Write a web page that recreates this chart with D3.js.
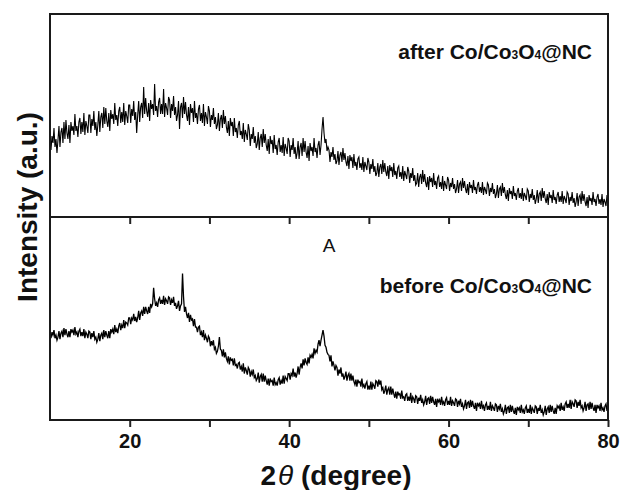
<!DOCTYPE html>
<html>
<head>
<meta charset="utf-8">
<script src="https://d3js.org/d3.v7.min.js"></script>
<style>
  body { margin: 0; background: #fff; }
  svg { display: block; }
  .tick text { font-family: "Liberation Sans", Arial, sans-serif; font-weight: bold; font-size: 20px; fill: #111; }
  .tick line { stroke: #222; stroke-width: 2; }
  .label { font-family: "Liberation Sans", Arial, sans-serif; font-weight: bold; fill: #111; }
</style>
</head>
<body>
<script>
// 2theta grid: 10 to 80 deg, step 0.125
var thetaStart = 10, thetaStep = 0.125;

// upper pattern: after Co/Co3O4@NC (a.u.), one row per degree
var afterCounts = [
  85, 67, 81, 74, 89, 70, 78, 64,
  77, 91, 70, 85, 89, 74, 95, 78,
  97, 84, 78, 92, 74, 95, 86, 91,
  82, 103, 86, 91, 80, 95, 99, 83,
  95, 85, 104, 82, 96, 91, 84, 102,
  102, 84, 98, 91, 106, 87, 95, 81,
  92, 106, 85, 100, 104, 89, 110, 93,
  109, 96, 90, 104, 86, 107, 98, 103,
  93, 114, 97, 102, 91, 106, 110, 94,
  105, 95, 114, 92, 106, 101, 94, 112,
  112, 94, 108, 101, 116, 97, 105, 84,
  102, 116, 95, 110, 114, 99, 130, 103,
  119, 106, 100, 114, 96, 117, 108, 113,
  102, 133, 106, 111, 100, 115, 119, 103,
  113, 103, 128, 100, 114, 109, 102, 120,
  117, 99, 113, 106, 121, 102, 110, 96,
  102, 116, 88, 110, 114, 99, 120, 103,
  115, 102, 96, 110, 92, 113, 104, 109,
  95, 116, 99, 104, 93, 108, 112, 96,
  104, 94, 113, 91, 105, 100, 93, 111,
  106, 90, 102, 97, 109, 93, 100, 88,
  92, 104, 86, 98, 102, 89, 107, 93,
  101, 90, 84, 96, 81, 99, 91, 95,
  81, 99, 85, 89, 79, 92, 96, 82,
  86, 78, 94, 75, 87, 83, 77, 93,
  87, 71, 83, 78, 90, 74, 81, 69,
  73, 85, 67, 79, 83, 70, 88, 74,
  83, 72, 66, 78, 63, 81, 73, 77,
  64, 82, 68, 72, 62, 75, 79, 65,
  72, 64, 80, 61, 73, 69, 63, 79,
  76, 60, 72, 67, 79, 63, 70, 58,
  64, 76, 58, 70, 74, 61, 79, 65,
  76, 65, 59, 71, 56, 74, 66, 70,
  61, 79, 65, 69, 59, 72, 76, 62,
  72, 88, 100, 84, 74, 78, 66, 70,
  67, 55, 65, 60, 70, 57, 63, 53,
  56, 66, 52, 62, 65, 55, 69, 57,
  64, 55, 51, 61, 48, 62, 56, 60,
  49, 63, 51, 55, 47, 58, 60, 49,
  54, 47, 60, 45, 55, 51, 47, 59,
  55, 43, 53, 48, 58, 45, 51, 41,
  44, 54, 40, 50, 53, 43, 57, 45,
  54, 45, 41, 51, 38, 52, 46, 50,
  40, 54, 42, 46, 38, 49, 51, 40,
  45, 38, 51, 36, 46, 42, 38, 50,
  46, 34, 44, 39, 49, 36, 42, 32,
  34, 44, 30, 40, 43, 33, 47, 35,
  43, 34, 30, 40, 27, 41, 35, 39,
  30, 44, 32, 36, 28, 39, 41, 30,
  35, 28, 41, 26, 36, 32, 28, 40,
  37, 26, 34, 30, 39, 28, 33, 24,
  28, 37, 24, 33, 35, 26, 39, 29,
  36, 28, 24, 33, 22, 35, 29, 32,
  24, 37, 27, 30, 23, 32, 35, 25,
  30, 24, 35, 22, 30, 27, 23, 34,
  32, 21, 29, 25, 34, 23, 28, 19,
  23, 32, 19, 28, 30, 21, 34, 24,
  30, 22, 18, 27, 16, 29, 23, 26,
  18, 31, 21, 24, 17, 26, 29, 19,
  24, 18, 29, 16, 24, 21, 17, 28,
  26, 15, 23, 19, 28, 17, 22, 13,
  18, 27, 14, 23, 25, 16, 29, 19,
  26, 18, 14, 23, 12, 25, 19, 22,
  14, 27, 17, 20, 13, 22, 25, 15,
  21, 15, 26, 13, 21, 18, 14, 25,
  23, 12, 20, 16, 25, 14, 19, 10,
  15, 24, 11, 20, 22, 13, 26, 16,
  23, 15, 11, 20, 9, 22, 16, 19,
  12, 25, 15, 18, 11, 20, 23, 13,
  18, 12, 23, 10, 18, 15, 11, 22,
  15
];

// lower pattern: before Co/Co3O4@NC
var beforeCounts = [
  90, 83, 89, 86, 91, 83, 86, 81,
  84, 90, 82, 88, 90, 84, 93, 86,
  92, 87, 84, 90, 84, 92, 89, 91,
  86, 94, 87, 89, 84, 90, 92, 85,
  89, 85, 92, 83, 89, 87, 83, 90,
  89, 82, 88, 84, 90, 82, 84, 79,
  82, 88, 80, 86, 88, 82, 91, 84,
  90, 86, 83, 90, 83, 92, 89, 92,
  87, 96, 89, 92, 88, 95, 98, 91,
  96, 93, 101, 93, 99, 98, 96, 103,
  103, 97, 103, 101, 107, 100, 104, 99,
  103, 110, 101, 108, 110, 105, 114, 107,
  114, 110, 107, 114, 108, 117, 114, 117,
  133, 122, 115, 118, 114, 121, 123, 117,
  121, 117, 125, 116, 122, 120, 117, 124,
  123, 116, 121, 118, 124, 115, 118, 112,
  115, 120, 110, 115, 117, 147, 124, 109,
  114, 107, 103, 108, 99, 106, 101, 102,
  95, 102, 94, 94, 89, 94, 95, 86,
  89, 84, 91, 81, 86, 83, 79, 85,
  83, 75, 80, 76, 81, 72, 74, 68,
  70, 75, 84, 72, 71, 65, 72, 64,
  69, 63, 60, 65, 57, 64, 61, 62,
  56, 63, 56, 57, 53, 58, 59, 52,
  55, 50, 58, 48, 54, 51, 47, 54,
  52, 45, 50, 47, 52, 44, 46, 41,
  43, 49, 39, 45, 47, 40, 48, 40,
  46, 41, 37, 43, 36, 43, 40, 41,
  36, 44, 37, 39, 36, 42, 44, 37,
  41, 38, 46, 38, 45, 43, 41, 48,
  48, 42, 48, 46, 53, 45, 49, 44,
  48, 55, 47, 54, 58, 53, 62, 56,
  63, 59, 57, 64, 58, 66, 64, 67,
  63, 73, 68, 71, 69, 77, 81, 75,
  81, 86, 91, 85, 76, 74, 69, 67,
  66, 60, 66, 55, 60, 56, 51, 56,
  54, 46, 52, 48, 54, 45, 48, 42,
  45, 50, 41, 46, 48, 41, 48, 41,
  46, 40, 37, 42, 35, 42, 39, 40,
  35, 43, 35, 37, 33, 38, 40, 32,
  36, 32, 40, 32, 38, 36, 33, 41,
  40, 35, 42, 37, 41, 32, 34, 28,
  31, 36, 27, 32, 34, 27, 35, 27,
  33, 28, 24, 30, 23, 30, 27, 28,
  23, 31, 24, 25, 21, 27, 28, 21,
  25, 21, 29, 19, 25, 23, 19, 26,
  25, 18, 24, 21, 27, 19, 22, 17,
  20, 26, 17, 23, 24, 18, 26, 19,
  25, 20, 17, 23, 15, 23, 20, 22,
  17, 25, 18, 20, 16, 22, 24, 17,
  21, 17, 25, 16, 21, 19, 16, 23,
  22, 15, 21, 18, 23, 15, 18, 13,
  16, 22, 13, 19, 20, 14, 22, 15,
  21, 16, 13, 19, 11, 19, 16, 18,
  13, 21, 14, 16, 11, 17, 19, 12,
  16, 12, 20, 11, 16, 14, 11, 18,
  17, 10, 16, 13, 18, 10, 13, 8,
  11, 17, 8, 14, 15, 9, 17, 10,
  16, 11, 8, 14, 7, 15, 12, 14,
  9, 17, 10, 12, 8, 14, 16, 9,
  13, 9, 17, 8, 14, 12, 9, 16,
  15, 8, 14, 11, 17, 9, 12, 7,
  10, 16, 7, 13, 15, 9, 17, 10,
  16, 11, 8, 14, 8, 16, 14, 16,
  11, 19, 12, 15, 11, 18, 20, 14,
  18, 14, 22, 13, 20, 18, 15, 22,
  21, 14, 20, 16, 22, 14, 16, 11,
  14, 20, 11, 17, 18, 12, 20, 13,
  19, 14, 11, 17, 9, 17, 14, 16,
  11, 19, 12, 14, 10, 16, 18, 11,
  14
];

var xTicks = [20, 30, 40, 50, 60, 70, 80];
var xTickLabels = [20, 40, 60, 80];

var W = 622, H = 490;
var plotLeft = 50, plotRight = 608, plotTop = 14, plotMid = 217, plotBottom = 420;

var svg = d3.select("body").append("svg")
    .attr("width", W)
    .attr("height", H);

var x = d3.scaleLinear().domain([10, 80]).range([plotLeft, plotRight]);
var yTop = d3.scaleLinear().domain([0, 203]).range([plotMid, plotTop]);
var yLow = d3.scaleLinear().domain([0, 203]).range([plotBottom + 2, plotMid]);

function toPoints(arr) {
    return arr.map(function (v, i) { return { t: thetaStart + i * thetaStep, v: v }; });
}

var lineTop = d3.line().x(function (d) { return x(d.t); }).y(function (d) { return yTop(d.v); });
var lineLow = d3.line().x(function (d) { return x(d.t); }).y(function (d) { return yLow(d.v); });

svg.append("path")
    .datum(toPoints(afterCounts))
    .attr("d", lineTop)
    .attr("fill", "none")
    .attr("stroke", "#000")
    .attr("stroke-width", 1.1);

svg.append("path")
    .datum(toPoints(beforeCounts))
    .attr("d", lineLow)
    .attr("fill", "none")
    .attr("stroke", "#000")
    .attr("stroke-width", 1.3);

// bottom axis
var xAxis = d3.axisBottom(x)
    .tickValues(xTicks)
    .tickSize(7)
    .tickPadding(7)
    .tickFormat(function (d) { return xTickLabels.indexOf(d) >= 0 ? d : ""; });

var gx = svg.append("g")
    .attr("transform", "translate(0," + plotBottom + ")")
    .call(xAxis);
gx.select(".domain").remove();

// ticks on the divider, pointing down into the lower panel
var midAxis = d3.axisBottom(x)
    .tickValues(xTicks.slice(0, -1))
    .tickSize(7)
    .tickFormat("");
var gm = svg.append("g")
    .attr("transform", "translate(0," + plotMid + ")")
    .call(midAxis);
gm.select(".domain").remove();

// frame and divider
svg.append("rect")
    .attr("x", plotLeft).attr("y", plotTop)
    .attr("width", plotRight - plotLeft).attr("height", plotBottom - plotTop)
    .attr("fill", "none").attr("stroke", "#1a1a1a").attr("stroke-width", 2);
svg.append("line")
    .attr("x1", plotLeft).attr("x2", plotRight)
    .attr("y1", plotMid).attr("y2", plotMid)
    .attr("stroke", "#1a1a1a").attr("stroke-width", 2);

// sample labels
function sampleLabel(word, yBase) {
    var t = svg.append("text")
        .attr("class", "label")
        .attr("x", 592).attr("y", yBase)
        .attr("text-anchor", "end")
        .style("font-size", "21px");
    t.append("tspan").text(word + " Co/Co");
    t.append("tspan").text("3").style("font-size", "12px");
    t.append("tspan").text("O");
    t.append("tspan").text("4").style("font-size", "12px");
    t.append("tspan").text("@NC");
}
sampleLabel("after", 59);
sampleLabel("before", 293);

svg.append("text")
    .attr("x", 329).attr("y", 252)
    .attr("text-anchor", "middle")
    .style("font-family", "'Liberation Sans', Arial, sans-serif")
    .style("font-size", "19px")
    .style("fill", "#111")
    .text("A");

// axis titles
var xt = svg.append("text")
    .attr("class", "label")
    .attr("x", 336).attr("y", 485)
    .attr("text-anchor", "middle")
    .style("font-size", "28px");
xt.append("tspan").text("2");
xt.append("tspan").text("θ").style("font-style", "italic").style("font-weight", "normal").attr("dx", 2);
xt.append("tspan").text(" (degree)");

svg.append("text")
    .attr("class", "label")
    .attr("transform", "translate(37,207) rotate(-90)")
    .attr("text-anchor", "middle")
    .style("font-size", "28px")
    .text("Intensity (a.u.)");
</script>
</body>
</html>
